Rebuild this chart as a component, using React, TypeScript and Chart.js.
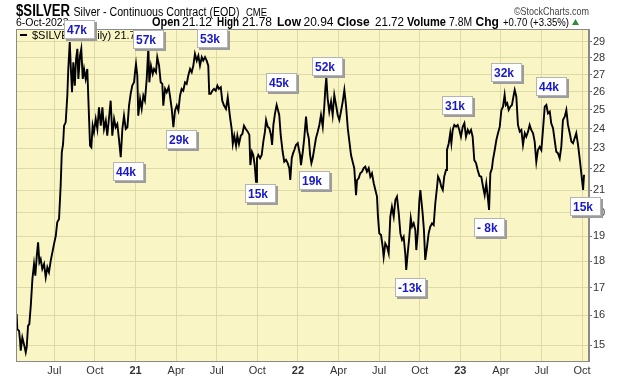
import React, { useEffect, useRef } from "react";
import { Chart, registerables } from "chart.js";

Chart.register(...registerables);

// Trading dates expressed as decimal years (2021.0 = 1-Jan-2021)
const dateYears = [
  2020.268, 2020.272, 2020.283, 2020.289, 2020.293, 2020.303, 2020.313, 2020.324, 2020.330, 2020.338,
  2020.346, 2020.355, 2020.365, 2020.375, 2020.383, 2020.392, 2020.400, 2020.408, 2020.416, 2020.426,
  2020.437, 2020.447, 2020.457, 2020.467, 2020.478, 2020.488, 2020.498, 2020.509, 2020.518, 2020.529,
  2020.539, 2020.546, 2020.554, 2020.560, 2020.570, 2020.580, 2020.586, 2020.595, 2020.601, 2020.609,
  2020.617, 2020.626, 2020.634, 2020.642, 2020.648, 2020.658, 2020.666, 2020.675, 2020.683, 2020.693,
  2020.703, 2020.714, 2020.720, 2020.728, 2020.736, 2020.744, 2020.755, 2020.765, 2020.775, 2020.786,
  2020.796, 2020.806, 2020.817, 2020.826, 2020.837, 2020.847, 2020.857, 2020.868, 2020.878, 2020.888,
  2020.898, 2020.909, 2020.919, 2020.929, 2020.940, 2020.950, 2020.960, 2020.970, 2020.980, 2020.991,
  2020.997, 2021.003, 2021.011, 2021.017, 2021.028, 2021.038, 2021.048, 2021.058, 2021.069, 2021.079,
  2021.085, 2021.095, 2021.106, 2021.114, 2021.126, 2021.134, 2021.145, 2021.155, 2021.165, 2021.171,
  2021.182, 2021.192, 2021.204, 2021.212, 2021.223, 2021.233, 2021.243, 2021.254, 2021.264, 2021.274,
  2021.284, 2021.294, 2021.305, 2021.315, 2021.325, 2021.336, 2021.346, 2021.356, 2021.366, 2021.377,
  2021.387, 2021.397, 2021.408, 2021.417, 2021.428, 2021.438, 2021.448, 2021.454, 2021.463, 2021.473,
  2021.483, 2021.494, 2021.504, 2021.514, 2021.525, 2021.534, 2021.545, 2021.557, 2021.568, 2021.576,
  2021.582, 2021.592, 2021.599, 2021.608, 2021.619, 2021.627, 2021.637, 2021.648, 2021.658, 2021.668,
  2021.679, 2021.691, 2021.701, 2021.707, 2021.717, 2021.725, 2021.734, 2021.742, 2021.748, 2021.756,
  2021.767, 2021.777, 2021.787, 2021.797, 2021.804, 2021.814, 2021.824, 2021.834, 2021.841, 2021.849,
  2021.859, 2021.869, 2021.877, 2021.885, 2021.894, 2021.906, 2021.916, 2021.927, 2021.937, 2021.947,
  2021.953, 2021.962, 2021.970, 2021.978, 2021.988, 2021.999, 2022.005, 2022.013, 2022.019, 2022.030,
  2022.039, 2022.050, 2022.058, 2022.067, 2022.075, 2022.083, 2022.091, 2022.101, 2022.111, 2022.122,
  2022.132, 2022.142, 2022.153, 2022.163, 2022.169, 2022.175, 2022.183, 2022.193, 2022.204, 2022.214,
  2022.224, 2022.235, 2022.245, 2022.255, 2022.265, 2022.276, 2022.286, 2022.296, 2022.307, 2022.317,
  2022.327, 2022.337, 2022.347, 2022.358, 2022.364, 2022.374, 2022.384, 2022.395, 2022.405, 2022.415,
  2022.425, 2022.436, 2022.446, 2022.456, 2022.467, 2022.477, 2022.487, 2022.493, 2022.501, 2022.512,
  2022.522, 2022.528, 2022.538, 2022.549, 2022.559, 2022.569, 2022.579, 2022.590, 2022.600, 2022.610,
  2022.621, 2022.631, 2022.641, 2022.651, 2022.661, 2022.667, 2022.676, 2022.686, 2022.695, 2022.703,
  2022.713, 2022.723, 2022.729, 2022.738, 2022.748, 2022.754, 2022.760, 2022.768, 2022.776, 2022.784,
  2022.795, 2022.805, 2022.815, 2022.826, 2022.836, 2022.846, 2022.857, 2022.863, 2022.873, 2022.883,
  2022.892, 2022.901, 2022.912, 2022.918, 2022.929, 2022.938, 2022.945, 2022.953, 2022.963, 2022.974,
  2022.984, 2022.994, 2023.004, 2023.015, 2023.025, 2023.035, 2023.046, 2023.055, 2023.066, 2023.076,
  2023.086, 2023.097, 2023.107, 2023.118, 2023.129, 2023.140, 2023.150, 2023.160, 2023.171, 2023.177,
  2023.185, 2023.195, 2023.201, 2023.212, 2023.222, 2023.232, 2023.243, 2023.253, 2023.263, 2023.273,
  2023.280, 2023.289, 2023.298, 2023.308, 2023.318, 2023.329, 2023.335, 2023.345, 2023.355, 2023.366,
  2023.376, 2023.386, 2023.397, 2023.406, 2023.417, 2023.427, 2023.437, 2023.448, 2023.458, 2023.468,
  2023.478, 2023.489, 2023.499, 2023.509, 2023.520, 2023.530, 2023.540, 2023.551, 2023.560, 2023.571,
  2023.581, 2023.591, 2023.602, 2023.612, 2023.622, 2023.632, 2023.643, 2023.653, 2023.663, 2023.674,
  2023.684, 2023.694, 2023.704, 2023.714, 2023.725, 2023.735, 2023.745, 2023.756, 2023.762,
];

const closes = [
  16.05, 15.53, 15.47, 15.14, 14.82, 15.25, 15.03, 14.76, 14.93, 15.64,
  15.70, 16.34, 17.31, 17.89, 17.44, 18.21, 18.75, 17.95, 18.08, 17.70,
  17.89, 17.38, 17.76, 17.57, 18.02, 18.35, 18.68, 19.02, 19.59, 19.73,
  21.21, 22.80, 23.22, 24.16, 24.34, 25.79, 27.33, 28.97, 27.53, 25.98,
  27.73, 26.36, 27.93, 28.55, 26.75, 28.13, 28.55, 26.75, 27.33, 26.75,
  27.33, 24.52, 23.13, 23.05, 24.16, 23.82, 24.52, 23.99, 25.15, 24.16,
  25.15, 23.99, 24.43, 23.64, 24.61, 25.51, 23.64, 24.52, 24.08, 24.25,
  23.47, 22.56, 23.99, 24.69, 23.99, 24.08, 25.24, 25.89, 26.36, 26.55,
  27.14, 27.63, 26.94, 24.69, 25.61, 25.06, 25.79, 25.51, 26.75, 28.65,
  26.55, 27.53, 27.04, 27.33, 27.14, 28.04, 27.53, 26.55, 26.46, 25.24,
  26.17, 25.98, 26.27, 25.79, 25.06, 24.08, 24.96, 25.24, 24.96, 25.79,
  26.17, 26.07, 26.55, 26.46, 26.94, 27.33, 27.14, 27.53, 28.24, 27.83,
  28.13, 27.53, 28.04, 27.83, 28.04, 27.83, 27.53, 25.89, 25.89, 26.07,
  26.17, 26.07, 26.36, 26.17, 26.27, 25.51, 25.24, 25.06, 25.70, 25.06,
  24.61, 23.99, 23.22, 23.64, 23.13, 23.64, 23.22, 23.64, 23.73, 24.16,
  23.99, 23.85, 23.68, 22.18, 22.83, 22.67, 22.18, 21.39, 22.51, 22.67,
  22.51, 22.67, 23.34, 23.85, 24.46, 24.11, 24.03, 23.68, 23.17, 24.20,
  24.82, 25.27, 25.00, 24.73, 23.68, 22.83, 22.34, 22.43, 22.27, 22.03,
  21.47, 22.51, 22.75, 22.92, 23.17, 23.26, 23.00, 22.67, 22.18, 22.83,
  23.51, 24.64, 23.85, 23.51, 22.67, 22.27, 22.51, 23.00, 23.51, 23.85,
  24.20, 24.73, 24.11, 25.27, 26.21, 26.82, 25.65, 24.91, 25.46, 24.73,
  25.83, 25.27, 24.73, 24.46, 24.91, 25.46, 26.11, 25.27, 24.03, 23.34,
  22.67, 22.34, 22.03, 20.78, 21.47, 21.55, 21.79, 21.86, 22.03, 22.10,
  21.86, 22.03, 21.63, 21.79, 21.32, 21.01, 20.71, 19.83, 19.12, 19.05,
  18.57, 18.17, 18.71, 18.57, 18.31, 19.83, 20.26, 19.83, 20.56, 20.71,
  19.97, 19.12, 18.85, 18.98, 18.31, 17.66, 18.31, 18.98, 19.76, 19.40,
  19.54, 19.26, 18.44, 19.12, 20.56, 21.01, 20.56, 19.97, 19.26, 18.05,
  18.57, 19.12, 19.40, 19.54, 19.47, 20.41, 21.16, 21.63, 21.47, 21.16,
  21.01, 21.63, 21.94, 22.92, 23.26, 23.77, 23.26, 23.94, 24.20, 24.11,
  24.20, 23.94, 23.59, 24.11, 24.29, 23.59, 23.94, 23.77, 23.94, 23.59,
  22.43, 22.27, 21.94, 21.66, 21.63, 21.16, 20.78, 21.32, 20.56, 20.12,
  21.79, 22.03, 22.43, 22.92, 23.42, 23.77, 24.11, 25.00, 25.18, 25.83,
  25.27, 25.37, 25.00, 25.18, 25.27, 25.83, 26.11, 25.73, 24.20, 23.85,
  23.94, 23.17, 23.77, 23.59, 23.85, 24.20, 23.94, 23.77, 23.34, 22.34,
  22.92, 23.08, 22.92, 23.94, 25.18, 25.27, 24.82, 24.91, 24.29, 24.03,
  23.42, 22.83, 22.75, 22.51, 23.08, 24.46, 24.64, 25.00, 24.20, 23.77,
  23.34, 23.26, 23.51, 23.77, 23.17, 22.51, 21.79, 21.01, 21.72,
];

// Axis ranges and ticks
const xMin = 2020.264;
const xMax = 2023.7925;
const yMin = 14.49;
const yMax = 29.81;
const quarterTicks = [2020.5, 2020.75, 2021, 2021.25, 2021.5, 2021.75, 2022, 2022.25, 2022.5, 2022.75, 2023, 2023.25, 2023.5, 2023.75];
const quarterLabels = ["Jul", "Oct", "21", "Apr", "Jul", "Oct", "22", "Apr", "Jul", "Oct", "23", "Apr", "Jul", "Oct"];
const priceTicks = [15, 16, 17, 18, 19, 20, 21, 22, 23, 24, 25, 26, 27, 28, 29];

// Volume call-outs (label, date in decimal years, price level of the box centre)
const volLabels = ["47k", "57k", "53k", "44k", "29k", "15k", "45k", "52k", "19k", "-13k", "31k", "- 8k", "32k", "44k", "15k"];
const volDates = [2020.652, 2021.079, 2021.471, 2020.954, 2021.284, 2021.767, 2021.902, 2022.185, 2022.102, 2022.691, 2022.981, 2023.179, 2023.283, 2023.563, 2023.772];
const volPrices = [29.75, 29.14, 29.19, 21.89, 23.45, 20.84, 26.56, 27.47, 21.43, 17.01, 25.27, 19.37, 27.11, 26.33, 20.25];

// Header texts
const symbolText = "$SILVER";
const nameText = "Silver - Continuous Contract (EOD)";
const exchangeText = "CME";
const creditText = "©StockCharts.com";
const dateText = "6-Oct-2023";
const quoteLabels = ["Open", "High", "Low", "Close", "Volume", "Chg"];
const quoteValues = ["21.12", "21.78", "20.94", "21.72", "7.8M", "+0.70 (+3.35%)"];
const legendText = "$SILVER (Daily) 21.72";

const FONT = "'Liberation Sans', Arial, sans-serif";
const PLOT_BG = "#FAF5C4";
const GRID = "#DEDAA6";
const BORDER = "#8A8A8A";

const decorPlugin = {
  id: "decor",
  beforeDraw(chart: any) {
    const { ctx, chartArea: a } = chart;
    ctx.save();
    ctx.fillStyle = "#ffffff";
    ctx.fillRect(0, 0, chart.width, chart.height);
    ctx.fillStyle = PLOT_BG;
    ctx.fillRect(a.left, a.top, a.right - a.left, a.bottom - a.top);
    ctx.restore();
  },
  afterDraw(chart: any) {
    const { ctx, chartArea: a, scales } = chart;
    ctx.save();
    // plot frame
    ctx.strokeStyle = BORDER;
    ctx.lineWidth = 1;
    ctx.strokeRect(a.left + 0.5, a.top + 0.5, a.right - a.left - 1, a.bottom - a.top);

    // legend inside plot
    ctx.strokeStyle = "#000";
    ctx.lineWidth = 2;
    ctx.beginPath();
    ctx.moveTo(a.left + 4, a.top + 6);
    ctx.lineTo(a.left + 11, a.top + 6);
    ctx.stroke();
    ctx.fillStyle = "#000";
    ctx.font = `11px ${FONT}`;
    ctx.textBaseline = "alphabetic";
    ctx.textAlign = "left";
    ctx.fillText(legendText, a.left + 16, a.top + 10);

    // header row 1
    ctx.fillStyle = "#000";
    ctx.font = `bold 16px ${FONT}`;
    ctx.fillText(symbolText, 16, 16, 54);
    ctx.font = `12px ${FONT}`;
    ctx.fillText(nameText, 73.5, 16, 166);
    ctx.font = `10px ${FONT}`;
    ctx.fillText(exchangeText, 246, 16, 21);
    ctx.fillStyle = "#444";
    ctx.font = `11px ${FONT}`;
    ctx.fillText(creditText, 514, 15, 75);

    // header row 2
    ctx.fillStyle = "#000";
    ctx.font = `10.5px ${FONT}`;
    ctx.fillText(dateText, 16, 26, 55);
    const labelX = [152, 217, 277, 337, 407, 475.5];
    const labelW = [28, 22, 24, 34.5, 39, 25.5];
    const valueX = [182, 242, 303.5, 375, 449, 503];
    const valueW = [30, 31, 30.5, 29, 23, 66];
    for (let i = 0; i < quoteLabels.length; i++) {
      ctx.font = `bold 12px ${FONT}`;
      ctx.fillText(quoteLabels[i], labelX[i], 26, labelW[i]);
      ctx.font = i === quoteLabels.length - 1 ? `10.5px ${FONT}` : `12px ${FONT}`;
      ctx.fillText(quoteValues[i], valueX[i], 26, valueW[i]);
    }
    // up triangle
    ctx.fillStyle = "#2E8B3A";
    ctx.beginPath();
    ctx.moveTo(572, 25);
    ctx.lineTo(579, 25);
    ctx.lineTo(575.5, 19);
    ctx.closePath();
    ctx.fill();

    // volume call-out boxes
    const xs = scales.x;
    const ys = scales.y;
    const w = 31;
    const h = 19;
    for (let i = 0; i < volLabels.length; i++) {
      const cx = xs.getPixelForValue(volDates[i]);
      const cy = ys.getPixelForValue(volPrices[i]);
      const left = Math.round(cx - w / 2);
      const top = Math.round(cy - h / 2);
      ctx.fillStyle = "#9c9c9c";
      ctx.fillRect(left + 2, top + 2, w, h);
      ctx.fillStyle = "#ffffff";
      ctx.fillRect(left, top, w, h);
      ctx.strokeStyle = "#b4b4b4";
      ctx.lineWidth = 1;
      ctx.strokeRect(left + 0.5, top + 0.5, w - 1, h - 1);
      ctx.fillStyle = "#1818C8";
      ctx.font = `bold 12px ${FONT}`;
      ctx.fillText(volLabels[i], left + 3, top + 14);
    }
    ctx.restore();
  },
};

export default function App() {
  const ref = useRef<HTMLCanvasElement | null>(null);
  useEffect(() => {
    if (!ref.current) return;
    const chart = new Chart(ref.current, {
      type: "line",
      data: {
        datasets: [
          {
            data: dateYears.map((x, i) => ({ x, y: closes[i] })),
            borderColor: "#000000",
            borderWidth: 1.9,
            pointRadius: 0,
            tension: 0,
            fill: false,
          },
        ],
      },
      options: {
        responsive: false,
        animation: false,
        devicePixelRatio: 1,
        layout: { padding: { left: 16, top: 29, right: 0, bottom: 0 } },
        plugins: {
          legend: { display: false },
          tooltip: { enabled: false },
          title: { display: false },
        },
        scales: {
          x: {
            type: "linear",
            min: xMin,
            max: xMax,
            afterBuildTicks: (s: any) => {
              s.ticks = quarterTicks.map((v) => ({ value: v }));
            },
            afterFit: (s: any) => {
              s.height = 15;
            },
            grid: { color: GRID, drawTicks: false, lineWidth: 1 },
            border: { display: true, color: BORDER },
            ticks: {
              autoSkip: false,
              maxRotation: 0,
              padding: 3,
              color: "#333",
              font: (c: any) => ({
                family: FONT,
                size: 11,
                weight: c.tick && Number.isInteger(c.tick.value) ? "bold" : "normal",
              }),
              callback: (v: any) => {
                const i = quarterTicks.indexOf(Number(v));
                return i >= 0 ? quarterLabels[i] : "";
              },
            },
          },
          y: {
            type: "logarithmic",
            position: "right",
            min: yMin,
            max: yMax,
            afterBuildTicks: (s: any) => {
              s.ticks = priceTicks.map((v) => ({ value: v }));
            },
            afterFit: (s: any) => {
              s.width = 31;
            },
            grid: { color: GRID, tickColor: "#777", tickLength: 3, lineWidth: 1 },
            border: { display: true, color: BORDER },
            ticks: {
              autoSkip: false,
              padding: 1,
              color: "#333",
              font: { family: FONT, size: 11 },
              callback: (v: any) => String(v),
            },
          },
        },
      } as any,
      plugins: [decorPlugin],
    });
    return () => chart.destroy();
  }, []);
  return (
    <div style={{ position: "absolute", left: 0, top: 0, width: 620, height: 376, background: "#fff" }}>
      <canvas ref={ref} width={620} height={376} style={{ display: "block", width: 620, height: 376 }} />
    </div>
  );
}
